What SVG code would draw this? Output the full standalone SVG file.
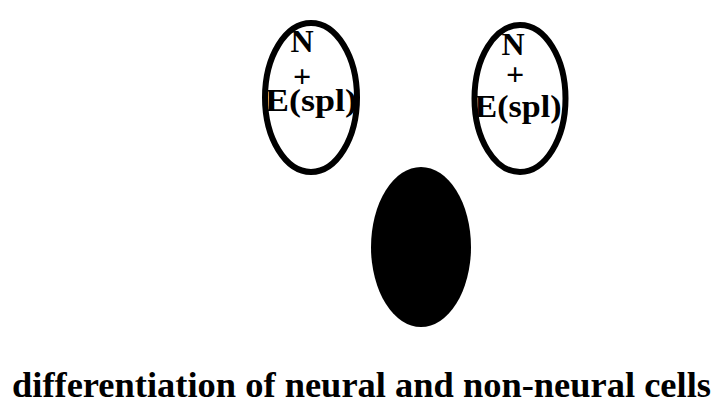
<svg xmlns="http://www.w3.org/2000/svg" width="719" height="407" viewBox="0 0 719 407">
<style>
.cell{fill:none;stroke:#000;stroke-width:6}
.lbl{font-family:"Liberation Serif","Times New Roman",serif;font-weight:bold;font-size:32px;fill:#000;text-anchor:middle}
.cap{font-family:"Liberation Serif","Times New Roman",serif;font-weight:bold;font-size:36px;fill:#000}
</style>
<rect width="719" height="407" fill="#fff"/>
<g id="cell-left">
<ellipse class="cell" cx="311" cy="97.5" rx="46" ry="74.5"/>
<text class="lbl"><tspan x="302" y="52">N</tspan><tspan x="302" y="87">+</tspan><tspan x="311" y="111" textLength="92" lengthAdjust="spacingAndGlyphs">E(spl)</tspan></text>
</g>
<g id="cell-right">
<ellipse class="cell" cx="520" cy="98.5" rx="45.5" ry="73.5"/>
<text class="lbl"><tspan x="513" y="55">N</tspan><tspan x="515" y="85">+</tspan><tspan x="518" y="117" textLength="87" lengthAdjust="spacingAndGlyphs">E(spl)</tspan></text>
</g>
<g id="cell-dark">
<ellipse cx="421" cy="247" rx="50" ry="80" fill="#000"/>
</g>
<g id="connectors"></g>
<text class="cap" x="12" y="397" textLength="699" lengthAdjust="spacingAndGlyphs">differentiation of neural and non-neural cells</text>
</svg>
